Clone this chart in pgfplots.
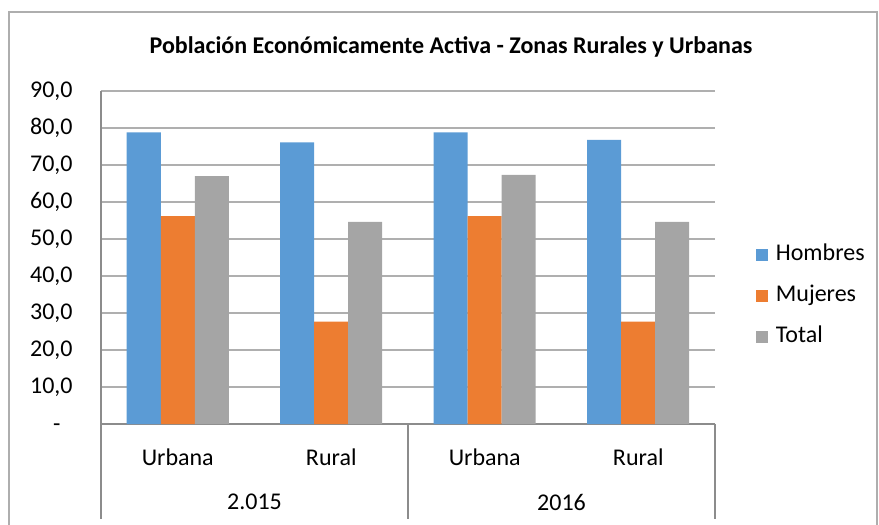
\documentclass[border=0pt]{standalone}
\usepackage{fontspec}
\setmainfont{Carlito}
\usepackage{pgfplots}
\usepackage{pgfplotstable}
\pgfplotsset{compat=1.18}
\definecolor{cH}{HTML}{5B9BD5}
\definecolor{cM}{HTML}{ED7D31}
\definecolor{cT}{HTML}{A5A5A5}
\definecolor{cGrid}{RGB}{175,175,175}
\definecolor{cAxis}{RGB}{140,140,140}

% x: 0 Urbana 2015, 1 Rural 2015, 2 Urbana 2016, 3 Rural 2016
\pgfplotstableread{
x H    M    T
0 78.8 56.2 67.0
1 76.1 27.7 54.6
2 78.8 56.2 67.3
3 76.8 27.7 54.6
}\pea

\begin{document}
\begin{tikzpicture}[font=\fontsize{12}{14}\selectfont]
% bounding box = 879x525 px at 0.5pt per px
\useasboundingbox (0,0) rectangle (439.5pt,262.5pt);
% chart frame
\draw[cAxis!70, line width=0.8pt] (4.5pt,0) -- (4.5pt,256.5pt) -- (438.5pt,256.5pt) -- (438.5pt,0);
\node[font=\fontsize{12}{14}\selectfont\bfseries] at (225.5pt,239pt)
  {Población Económicamente Activa - Zonas Rurales y Urbanas};
\begin{axis}[
  at={(50.5pt,50.5pt)}, anchor=south west,
  width=307pt, height=166.5pt, scale only axis,
  ybar=0pt, bar width=17pt,
  xmin=-0.5, xmax=3.5, ymin=0, ymax=90,
  axis x line*=bottom, axis y line*=left,
  axis line style={cAxis, line width=0.6pt, -},
  ymajorgrids, grid style={cGrid, line width=0.6pt},
  major tick length=0pt,
  xtick={0,1,2,3},
  xticklabels={Urbana,Rural,Urbana,Rural},
  xticklabel style={anchor=center, inner sep=0pt, yshift=-16.5pt},
  ytick={0,10,...,90},
  yticklabels={{-\phantom{0}},{10,0},{20,0},{30,0},{40,0},{50,0},{60,0},{70,0},{80,0},{90,0}},
  yticklabel style={anchor=east, inner sep=0pt, xshift=-14pt},
  /pgf/number format/assume math mode=true,
  legend style={at={(1,0.385)}, anchor=west, xshift=20.5pt, draw=none, fill=none,
    inner sep=0pt, row sep=10.5pt, column sep=4pt,
    nodes={inner sep=0pt, text height=8pt, text depth=2pt, anchor=west}},
  legend cell align=left,
  legend image code/.code={\fill[#1] (0pt,-2.875pt) rectangle (5.75pt,2.875pt);},
]
\addplot[fill=cH, draw=none] table[x=x,y=H]{\pea};
\addplot[fill=cM, draw=none] table[x=x,y=M]{\pea};
\addplot[fill=cT, draw=none] table[x=x,y=T]{\pea};
\legend{Hombres,Mujeres,Total}
\end{axis}
% category group separators and year labels
\draw[cAxis, line width=0.6pt] (50.5pt,50.5pt) -- (50.5pt,3pt)
  (204pt,50.5pt) -- (204pt,3pt) (357.5pt,50.5pt) -- (357.5pt,3pt);
\node at (127.25pt,11.5pt) {2.015};
\node at (280.75pt,11.5pt) {2016};
\end{tikzpicture}
\end{document}
